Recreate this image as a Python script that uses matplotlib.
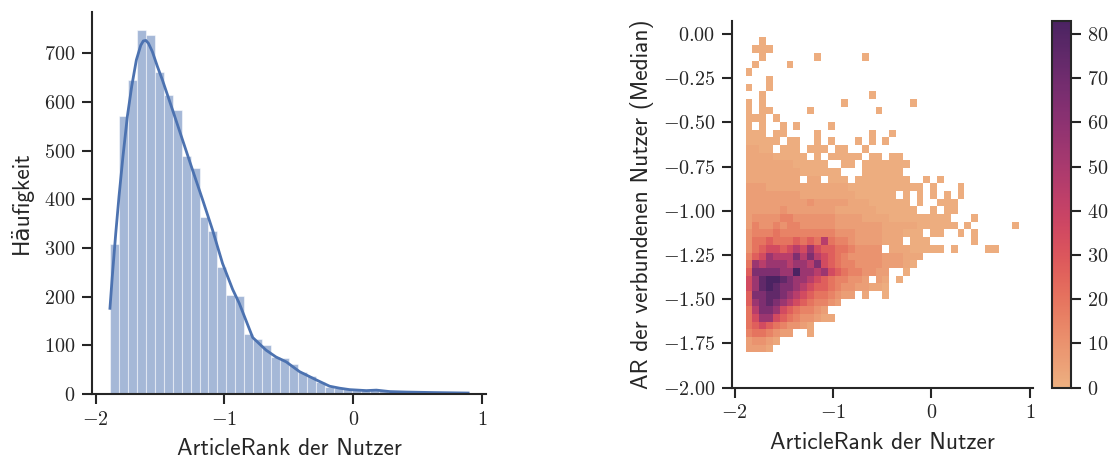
import numpy as np
import matplotlib
matplotlib.use("Agg")
import matplotlib.pyplot as plt
import seaborn as sns
from matplotlib.ticker import MultipleLocator

## ArticleRank der Nutzer, 40 bins
ar_min, ar_max = -1.889, 0.891
hist_counts = [308, 571, 645, 747, 738, 662, 614, 583, 489, 464,
               364, 335, 261, 203, 201, 123, 113, 100, 75, 74,
               61, 46, 36, 25, 15, 13, 10, 8, 8, 8,
               6, 4, 3, 3, 3, 2, 2, 2, 2, 2]

## KDE line
kde_x = [-1.889, -1.871, -1.844, -1.819, -1.788, -1.754, -1.720, -1.684, -1.650,
         -1.630, -1.610, -1.590, -1.560, -1.520, -1.482, -1.404, -1.326, -1.248,
         -1.170, -1.093, -1.015, -0.937, -0.885, -0.781, -0.677, -0.600, -0.521,
         -0.418, -0.288, -0.184, -0.107, -0.029, 0.101, 0.179, 0.282, 0.412,
         0.619, 0.891]
kde_y = [176, 241, 330, 405, 488, 570, 632, 686, 716,
         725, 726, 720, 703, 672, 645, 584, 522, 460,
         399, 337, 268, 215, 186, 116, 90, 76, 66,
         46, 29, 16, 12, 9, 7, 8, 5, 4,
         3, 2]

## 2D histogram: AR der verbundenen Nutzer (Median), 40 x 41 bins
med_min, med_max = -1.80, -0.02
# count per level code
level_counts = {'.': 0, '1': 1, '2': 3, '3': 6, '4': 10, '5': 15, '6': 20,
                '7': 27, '8': 35, '9': 45, 'a': 55, 'b': 65, 'c': 75, 'd': 83}
# one string per row, top row first, one char per x bin
grid_rows = [
    "..1",
    ".111",
    "..1.......1......1",
    ".1....1",
    "1",
    "...1",
    "1..1",
    "..1...............1",
    "1.1...........1.........1",
    "1.11.....1.........1",
    "111.1",
    "1.1..1.1....1",
    "111.11....1.......1..1",
    "11111.11..1.1...1.1.1",
    "2211.111.111.11..1",
    "222211111.1.11111.11.11",
    "222222211111..11.1111111",
    "22222222111111...111111",
    "22222222.22.111.11111111..1.1",
    "33322222222222211111111111.1...1",
    "3333333322222222111111.1.1.1.1.1",
    "333333333433333222111111.1..111",
    "3333343333333222222111111..1.11",
    "344445544444433332222111111111...1",
    "3544545544444333333322222111111.1......1",
    "45556555555554443333222111.11..1.1",
    "46676667676965543333222.111......1",
    "467887898a8776654444.22211111.1....11",
    "578a999b9b9876544444333222",
    "6a9aaa9aa9b87655444433321",
    "7bbbbaadaa9a876554433..1",
    "8acddcbaa987655443.32.1",
    "8acdcbba9877654433221",
    "7bbccba987665433.2..1",
    "7abcba98765543",
    "69bba8765543",
    "68aa876544322",
    "6787654432",
    "5665433..2",
    "34432",
    "3332",
]

n_xbins = len(hist_counts)
x_edges = np.linspace(ar_min, ar_max, n_xbins + 1)
y_edges = np.linspace(med_min, med_max, len(grid_rows) + 1)

grid = np.array([[level_counts[c] for c in r.ljust(n_xbins, '.')] for r in grid_rows])[::-1]
grid = np.ma.masked_equal(grid, 0)

blue = '#4C72B0'
ink = '#262626'
label_font = ['cmss10', 'DejaVu Sans']
lab_size = 16.8
tick_size = 14.5

plt.rcParams['font.family'] = 'cmr10'
plt.rcParams['mathtext.fontset'] = 'cm'
plt.rcParams['axes.formatter.use_mathtext'] = True
plt.rcParams['axes.unicode_minus'] = True

fig = plt.figure(figsize=(11.13, 4.63), dpi=100)
ax1 = fig.add_axes([0.0827, 0.149, 0.354, 0.825])
ax2 = fig.add_axes([0.6576, 0.1626, 0.2704, 0.7927])
cax = fig.add_axes([0.945, 0.1626, 0.0171, 0.7927])

# left: histogram + kde
ax1.bar(x_edges[:-1], hist_counts, width=np.diff(x_edges), align='edge',
        color=blue, alpha=0.5, edgecolor='white', linewidth=0.8)
ax1.plot(kde_x, kde_y, color=blue, lw=2)
ax1.set_xticks([-2, -1, 0, 1])
ax1.set_xlabel('ArticleRank der Nutzer', fontsize=lab_size, family=label_font,
               color=ink, labelpad=7)
ax1.set_ylabel('Häufigkeit', fontsize=lab_size, family=label_font, color=ink,
               labelpad=8)

# right: 2d histogram
cmap = sns.color_palette('flare', as_cmap=True)
mesh = ax2.pcolormesh(x_edges, y_edges, grid, cmap=cmap, vmin=0, vmax=83)
ax2.set_xlim(ax1.get_xlim())
ax2.set_ylim(-2.0, 0.075)
ax2.set_xticks([-2, -1, 0, 1])
ax2.yaxis.set_major_locator(MultipleLocator(0.25))
ax2.set_xlabel('ArticleRank der Nutzer', fontsize=lab_size, family=label_font,
               color=ink, labelpad=7)
ax2.set_ylabel('AR der verbundenen Nutzer (Median)', fontsize=lab_size,
               family=label_font, color=ink, labelpad=6)

cb = fig.colorbar(mesh, cax=cax)
cb.set_ticks(np.arange(0, 81, 10))
cb.outline.set_linewidth(1.5)
cb.outline.set_edgecolor(ink)
cax.tick_params(length=7.5, width=1.5, pad=4.5, labelsize=tick_size, colors=ink)

for ax in (ax1, ax2):
    for side in ('top', 'right'):
        ax.spines[side].set_visible(False)
    for side in ('left', 'bottom'):
        ax.spines[side].set_linewidth(1.5)
        ax.spines[side].set_color(ink)
    ax.tick_params(length=7.5, width=1.5, pad=4.5, labelsize=tick_size, colors=ink)

fig.savefig('out.png', dpi=100)
